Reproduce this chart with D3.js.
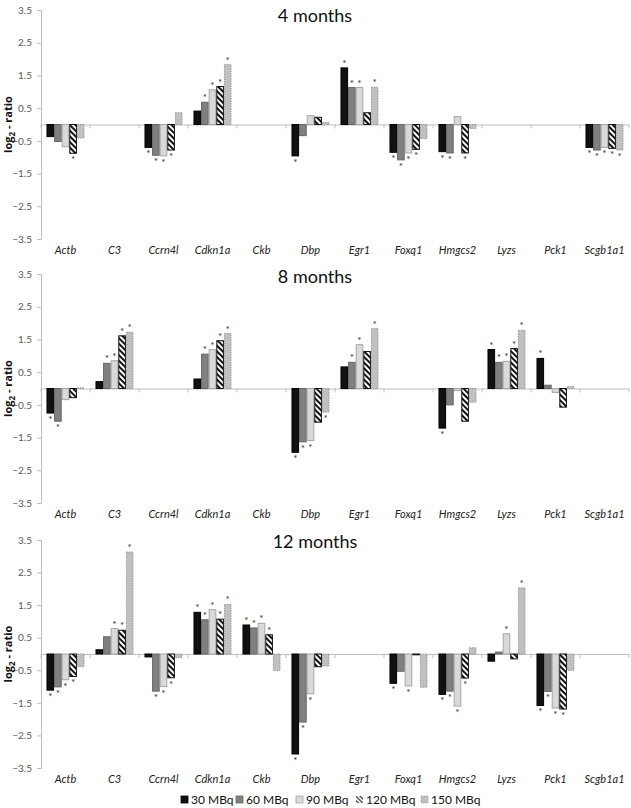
<!DOCTYPE html>
<html>
<head>
<meta charset="utf-8">
<script src="https://cdn.jsdelivr.net/npm/d3@7"></script>
<style>
html,body{margin:0;padding:0;background:#fff;}
svg{display:block;}
</style>
</head>
<body>
<script>
const categories = ["Actb","C3","Ccrn4l","Cdkn1a","Ckb","Dbp","Egr1","Foxq1","Hmgcs2","Lyzs","Pck1","Scgb1a1"];
const seriesNames = ["30 MBq","60 MBq","90 MBq","120 MBq","150 MBq"];
const yTicks = [3.5, 2.5, 1.5, 0.5, -0.5, -1.5, -2.5, -3.5];
const panelTitles = ["4 months","8 months","12 months"];

// 4 months
const m4_30  = [-0.37, null, -0.70, 0.41, null, -0.96, 1.73, -0.85, -0.83, null, null, -0.70];
const m4_60  = [-0.52, null, -0.94, 0.68, null, -0.34, 1.13, -1.08, -0.87, null, null, -0.78];
const m4_90  = [-0.68, null, -0.96, 1.06, null,  0.27, 1.13, -0.87,  0.24, null, null, -0.70];
const m4_120 = [-0.88, null, -0.78, 1.16, null,  0.22, 0.36, -0.76, -0.87, null, null, -0.73];
const m4_150 = [-0.41, null,  0.36, 1.83, null,  0.06, 1.14, -0.43, -0.12, null, null, -0.78];
const m4_sig30  = [0,0,1,0,0,1,1,1,1,0,0,1];
const m4_sig60  = [0,0,1,1,0,0,1,1,1,0,0,1];
const m4_sig90  = [0,0,1,1,0,0,1,1,0,0,0,1];
const m4_sig120 = [1,0,1,1,0,0,0,1,1,0,0,1];
const m4_sig150 = [0,0,0,1,0,0,1,0,0,0,0,1];

// 8 months
const m8_30  = [-0.75, 0.21, null, 0.29, null, -1.95, 0.66, null, -1.21, 1.19,  0.92, null];
const m8_60  = [-1.00, 0.77, null, 1.05, null, -1.63, 0.80, null, -0.50, 0.80,  0.10, null];
const m8_90  = [-0.34, 0.85, null, 1.19, null, -1.59, 1.34, null, -0.06, 0.83, -0.12, null];
const m8_120 = [-0.28, 1.61, null, 1.46, null, -1.03, 1.13, null, -1.00, 1.22, -0.57, null];
const m8_150 = [ 0.02, 1.72, null, 1.68, null, -0.72, 1.83, null, -0.42, 1.78,  0.06, null];
const m8_sig30  = [1,0,0,0,0,1,0,0,1,1,1,0];
const m8_sig60  = [1,1,0,1,0,1,1,0,0,1,0,0];
const m8_sig90  = [0,1,0,1,0,1,1,0,0,1,0,0];
const m8_sig120 = [0,1,0,1,0,0,0,0,0,1,0,0];
const m8_sig150 = [0,1,0,1,0,1,1,0,0,1,0,0];

// 12 months
const m12_30  = [-1.11, 0.13, -0.09, 1.28,  0.89, -3.07, null, -0.90, -1.24, -0.22, -1.58, null];
const m12_60  = [-1.01, 0.53, -1.14, 1.05,  0.80, -2.09, null, -0.53, -1.14,  0.06, -1.15, null];
const m12_90  = [-0.79, 0.78, -1.00, 1.36,  0.94, -1.22, null, -0.98, -1.60,  0.62, -1.66, null];
const m12_120 = [-0.69, 0.73, -0.73, 1.07,  0.59, -0.39, null, -0.01, -0.74, -0.15, -1.69, null];
const m12_150 = [-0.39, 3.13, -0.11, 1.52, -0.51, -0.37, null, -1.02,  0.19,  2.03, -0.50, null];
const m12_sig30  = [1,0,0,1,1,1,0,1,1,0,1,0];
const m12_sig60  = [1,0,1,1,1,1,0,0,1,0,1,0];
const m12_sig90  = [1,1,1,1,1,1,0,1,1,1,1,0];
const m12_sig120 = [1,1,1,1,1,0,0,0,1,0,1,0];
const m12_sig150 = [0,1,0,1,0,0,0,0,0,1,0,0];

const panels = [
  {title: panelTitles[0], values:[m4_30,m4_60,m4_90,m4_120,m4_150], sig:[m4_sig30,m4_sig60,m4_sig90,m4_sig120,m4_sig150], top:10, bottom:239, titleY:22},
  {title: panelTitles[1], values:[m8_30,m8_60,m8_90,m8_120,m8_150], sig:[m8_sig30,m8_sig60,m8_sig90,m8_sig120,m8_sig150], top:274, bottom:503, titleY:283},
  {title: panelTitles[2], values:[m12_30,m12_60,m12_90,m12_120,m12_150], sig:[m12_sig30,m12_sig60,m12_sig90,m12_sig120,m12_sig150], top:540, bottom:768, titleY:548}
];

const W = 631, H = 808;
const svg = d3.select("body").append("svg").attr("width", W).attr("height", H);

const defs = svg.append("defs");
const pat = defs.append("pattern").attr("id","stripes").attr("patternUnits","userSpaceOnUse")
  .attr("width",4).attr("height",4).attr("patternTransform","rotate(-45)");
pat.append("rect").attr("width",4).attr("height",4).attr("fill","#fff");
pat.append("rect").attr("width",2).attr("height",4).attr("fill","#111");
const pat2 = defs.append("pattern").attr("id","stripesLegend").attr("patternUnits","userSpaceOnUse")
  .attr("width",3).attr("height",3).attr("patternTransform","rotate(-45)");
pat2.append("rect").attr("width",3).attr("height",3).attr("fill","#fff");
pat2.append("rect").attr("width",1.3).attr("height",3).attr("fill","#333");

const styles = [
  {fill:"#111111", stroke:"#000000", dash:null},
  {fill:"#808080", stroke:"#666666", dash:null},
  {fill:"#d9d9d9", stroke:"#a6a6a6", dash:null},
  {fill:"url(#stripes)", stroke:"#111111", dash:null},
  {fill:"#c0c0c0", stroke:"#999999", dash:"1.5,1"}
];

const left = 41, right = 629;
const x0 = d3.scaleBand().domain(categories).range([left, right]).paddingInner(0.224).paddingOuter(0.112);
const x1 = d3.scaleBand().domain(d3.range(seriesNames.length)).range([0, x0.bandwidth()]);

const font = "Lato, 'Open Sans', sans-serif";

panels.forEach(p => {
  const y = d3.scaleLinear().domain([-3.5, 3.5]).range([p.bottom, p.top]);
  const g = svg.append("g");

  const yAxis = d3.axisLeft(y).tickValues(yTicks).tickSize(4).tickFormat(d3.format(".1f"));
  const ya = g.append("g").attr("transform", `translate(${left},0)`).call(yAxis);
  ya.select(".domain").attr("stroke","#bfbfbf");
  ya.selectAll(".tick line").attr("stroke","#bfbfbf");
  ya.selectAll(".tick text").attr("fill","#595959").attr("font-size",10).attr("font-family",font).attr("x",-9);

  const xAxis = d3.axisBottom(x0).tickSize(0).tickFormat("");
  const xa = g.append("g").attr("transform", `translate(0,${y(0)})`).call(xAxis);
  xa.select(".domain").attr("stroke","#bfbfbf");
  const bounds = d3.range(categories.length + 1).map(i => left + i * x0.step());
  g.selectAll("line.ctick").data(bounds).join("line")
    .attr("x1", d => d).attr("x2", d => d)
    .attr("y1", y(0)).attr("y2", y(0) + 4).attr("stroke","#bfbfbf");

  g.selectAll("text.cat").data(categories).join("text")
    .attr("x", d => x0(d) + x0.bandwidth()/2)
    .attr("y", p.bottom + 15)
    .attr("text-anchor","middle").attr("font-style","italic")
    .attr("font-size",11).attr("font-family",font).attr("fill","#222")
    .text(d => d);

  p.values.forEach((vals, si) => {
    const st = styles[si];
    const data = categories.map((c, ci) => ({c, v: vals[ci], s: p.sig[si][ci]})).filter(d => d.v !== null);
    g.selectAll(null).data(data).join("rect")
      .attr("x", d => x0(d.c) + x1(si) + 0.5)
      .attr("width", x1.bandwidth() - 1)
      .attr("y", d => Math.min(y(d.v), y(0)))
      .attr("height", d => Math.max(0.8, Math.abs(y(d.v) - y(0))))
      .attr("fill", st.fill).attr("stroke", st.stroke).attr("stroke-width", 1)
      .attr("stroke-dasharray", st.dash);
    g.selectAll(null).data(data.filter(d => d.s)).join("text")
      .attr("x", d => x0(d.c) + x1(si) + x1.bandwidth()/2)
      .attr("y", d => d.v >= 0 ? y(d.v) - 1 : y(d.v) + 10)
      .attr("text-anchor","middle").attr("font-size",10).attr("font-family",font).attr("fill","#333")
      .text("*");
  });

  svg.append("text").attr("x", 315).attr("y", p.titleY).attr("text-anchor","middle")
    .attr("font-size",18).attr("font-family",font).attr("fill","#111").text(p.title);

  const yl = svg.append("text").attr("transform", `translate(12,${(p.top+p.bottom)/2}) rotate(-90)`)
    .attr("text-anchor","middle").attr("font-size",11).attr("font-weight","bold")
    .attr("font-family","'Open Sans', sans-serif").attr("fill","#111");
  yl.append("tspan").text("log");
  yl.append("tspan").attr("font-size",8).attr("dy",3).text("2");
  yl.append("tspan").attr("dy",-3).text(" - ratio");
});

const legendX = [181, 236, 296, 356, 421];
const lg = svg.append("g");
seriesNames.forEach((n, i) => {
  const st = styles[i];
  lg.append("rect").attr("x", legendX[i]).attr("y", 796).attr("width",7).attr("height",7)
    .attr("fill", i === 3 ? "url(#stripesLegend)" : st.fill)
    .attr("stroke", st.stroke).attr("stroke-width", i === 3 ? 0 : 0.8)
    .attr("stroke-dasharray", st.dash);
  lg.append("text").attr("x", legendX[i] + 10).attr("y", 804)
    .attr("font-size",12).attr("font-family",font).attr("fill","#111").text(n);
});
</script>
</body>
</html>
